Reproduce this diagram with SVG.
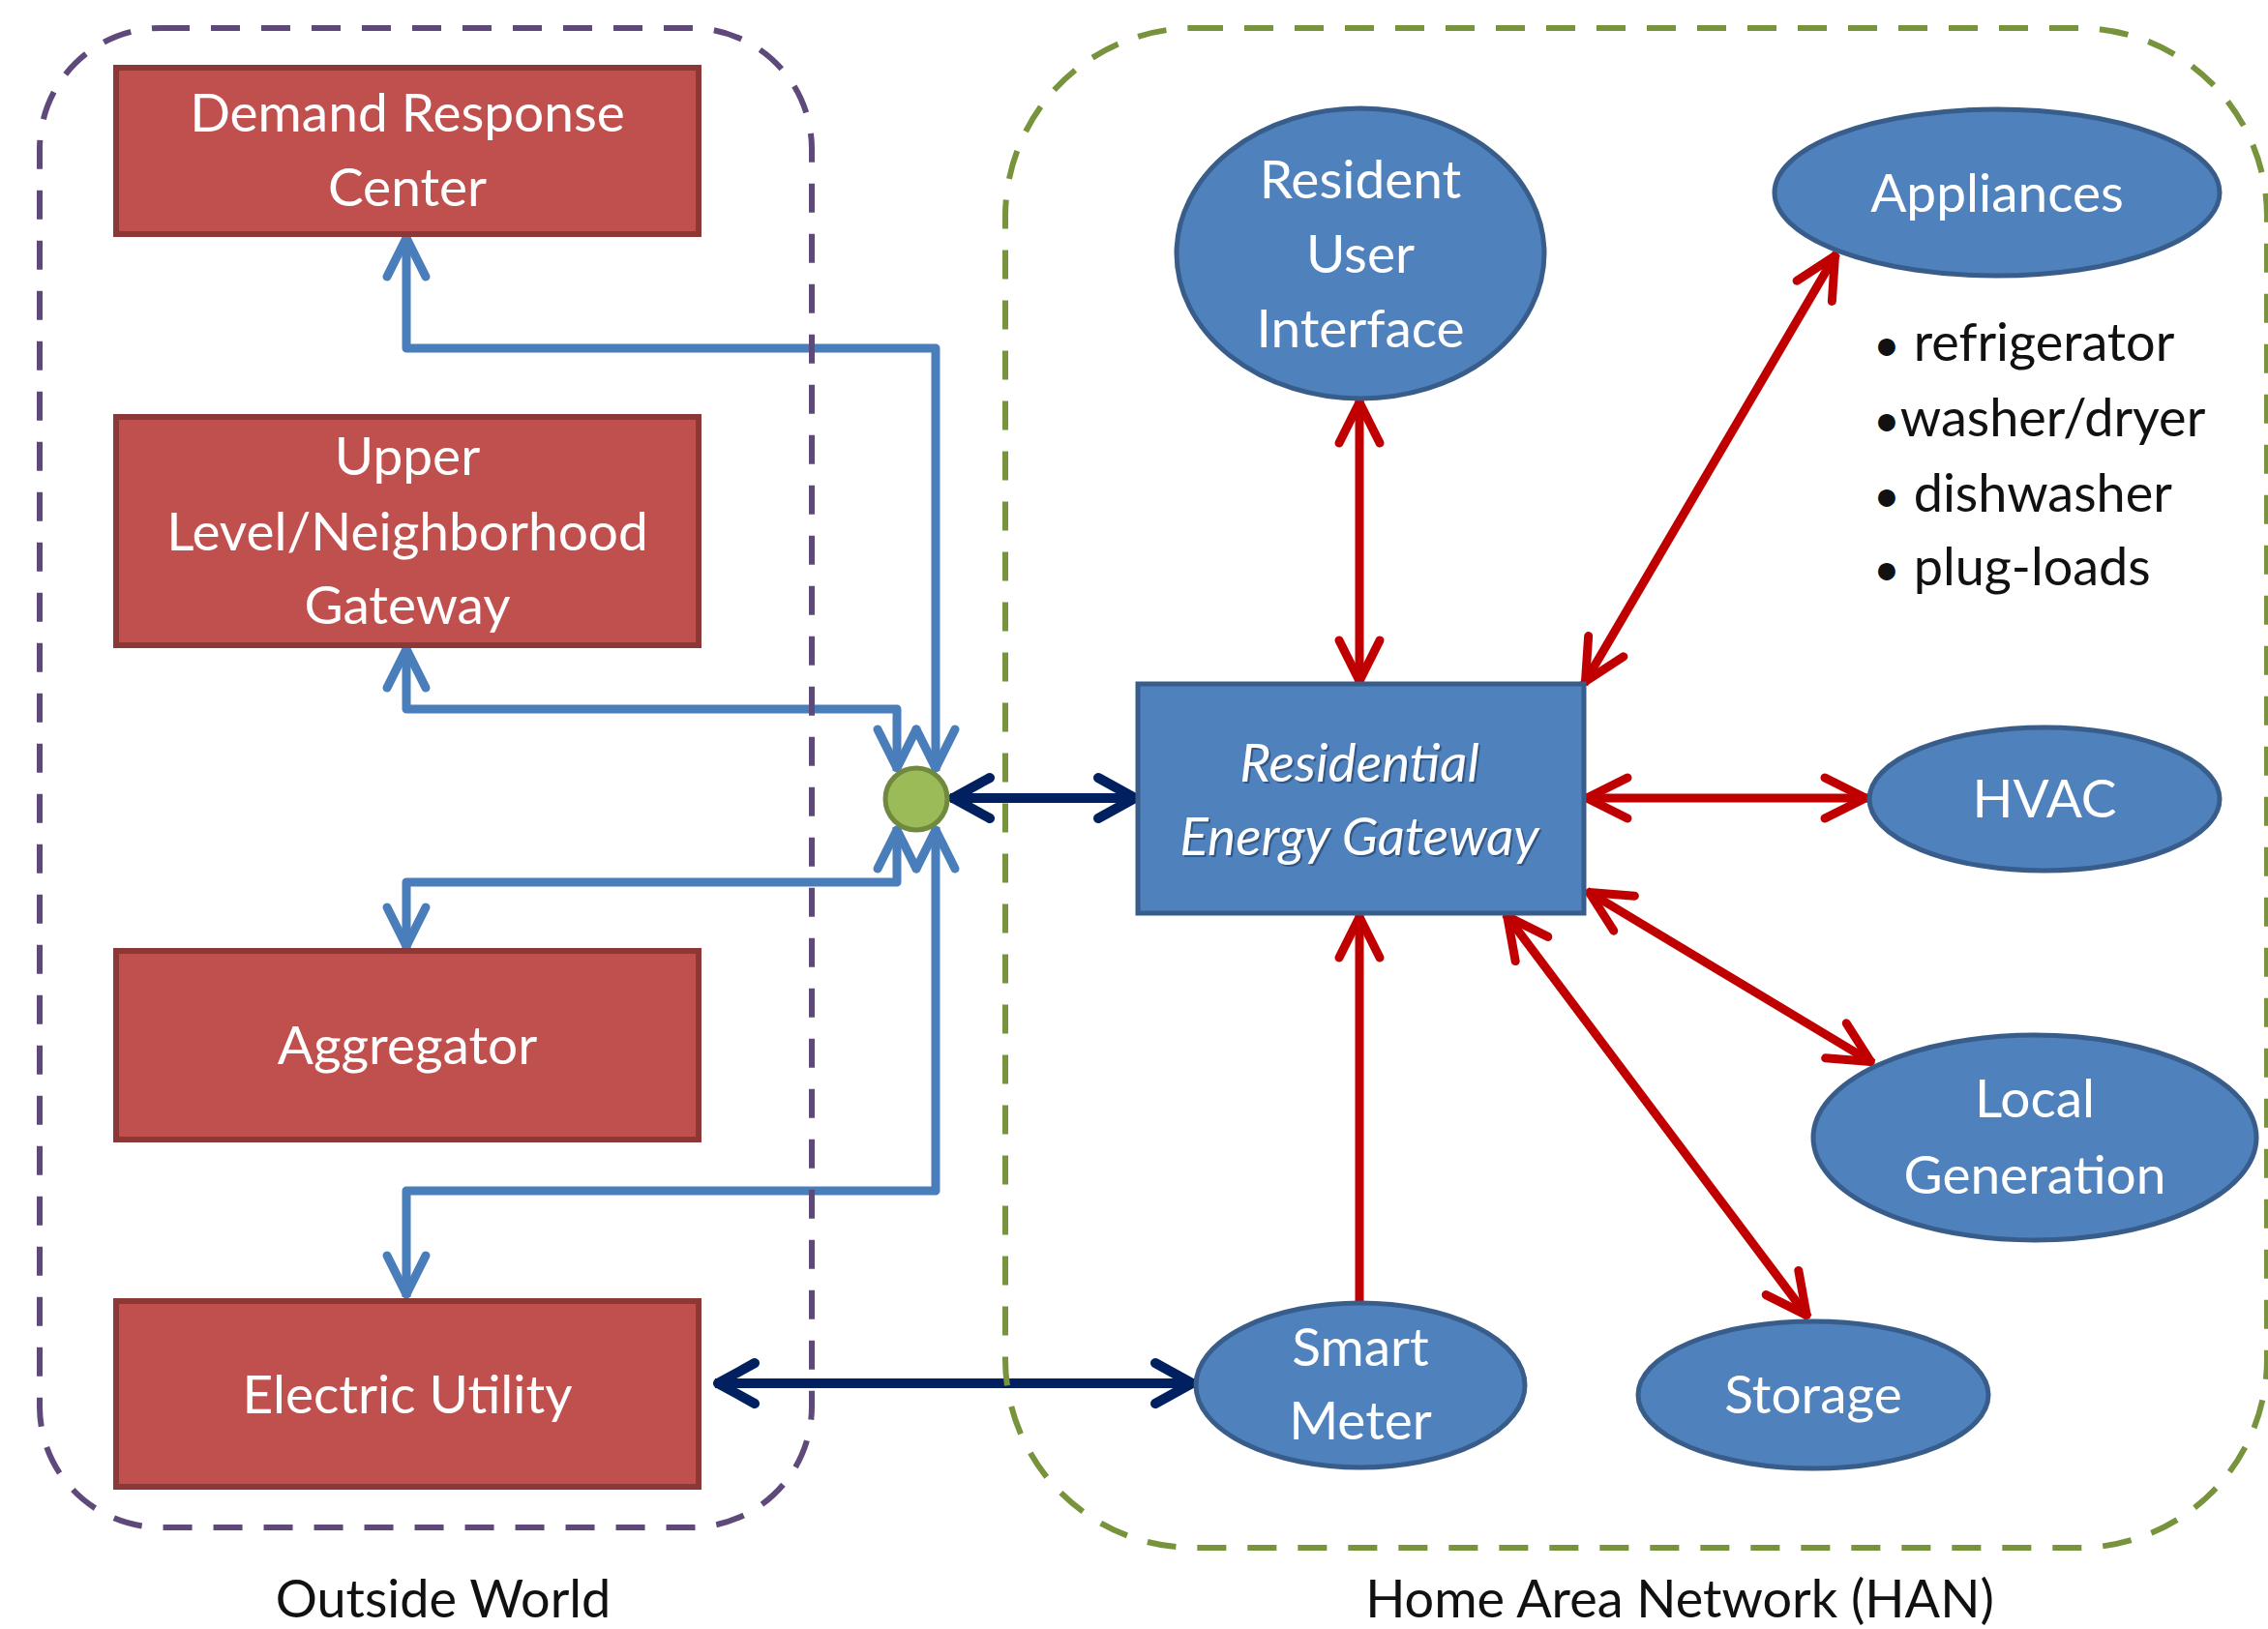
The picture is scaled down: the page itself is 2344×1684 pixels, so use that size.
<svg xmlns="http://www.w3.org/2000/svg" width="2344" height="1684" viewBox="0 0 2344 1684">
<style>
.rbox{fill:#C0504D;stroke:#8C3836;stroke-width:6}
.bnode{fill:#4F81BD;stroke:#385D8A;stroke-width:5}
.wt{fill:#fff;font-family:Lato,'Liberation Sans',sans-serif;font-size:55px;text-anchor:middle}
.it{font-style:italic}
.sh{fill:#1c3556;fill-opacity:0.55}
.bt{fill:#111;font-family:Lato,'Liberation Sans',sans-serif;font-size:54px}
.bul{font-size:48px}
.blue{fill:none;stroke:#4A7EBB;stroke-width:9;stroke-linejoin:round}
.red{fill:none;stroke:#C00000;stroke-width:9}
.navy{fill:none;stroke:#002060;stroke-width:10}
.outline{fill:none;stroke-width:6;stroke-dasharray:30 22}
</style>
<defs>
<marker id="mBlue" markerUnits="userSpaceOnUse" viewBox="-50 -30 60 60" refX="3" refY="0" markerWidth="60" markerHeight="60" orient="auto-start-reverse" overflow="visible">
<path d="M-40,-20 L0,0 L-40,20" fill="none" stroke="#4A7EBB" stroke-width="9" stroke-linecap="round" stroke-linejoin="round"/>
</marker>
<marker id="mRed" markerUnits="userSpaceOnUse" viewBox="-50 -30 60 60" refX="3" refY="0" markerWidth="60" markerHeight="60" orient="auto-start-reverse" overflow="visible">
<path d="M-42,-21 L0,0 L-42,21" fill="none" stroke="#C00000" stroke-width="9" stroke-linecap="round" stroke-linejoin="round"/>
</marker>
<marker id="mNavy" markerUnits="userSpaceOnUse" viewBox="-50 -30 60 60" refX="3" refY="0" markerWidth="60" markerHeight="60" orient="auto-start-reverse" overflow="visible">
<path d="M-38,-21 L0,0 L-38,21" fill="none" stroke="#002060" stroke-width="10" stroke-linecap="round" stroke-linejoin="round"/>
</marker>
</defs>
<rect width="2344" height="1684" fill="#fff"/>

<g id="connectors">
<path class="blue" d="M967,797 V360 H420 V243" marker-start="url(#mBlue)" marker-end="url(#mBlue)"/>
<path class="blue" d="M927,797 V733 H420 V668" marker-start="url(#mBlue)" marker-end="url(#mBlue)"/>
<path class="blue" d="M927,855 V912 H420 V981" marker-start="url(#mBlue)" marker-end="url(#mBlue)"/>
<path class="blue" d="M967,855 V1231 H420 V1341" marker-start="url(#mBlue)" marker-end="url(#mBlue)"/>
<path class="navy" d="M982,825 H1176" marker-start="url(#mNavy)" marker-end="url(#mNavy)"/>
<path class="navy" d="M739,1430 H1235" marker-start="url(#mNavy)" marker-end="url(#mNavy)"/>
<path class="red" d="M1405,413 V707" marker-start="url(#mRed)" marker-end="url(#mRed)"/>
<path class="red" d="M1898,262 L1637,707" marker-start="url(#mRed)" marker-end="url(#mRed)"/>
<path class="red" d="M1637,825 H1931" marker-start="url(#mRed)" marker-end="url(#mRed)"/>
<path class="red" d="M1640,921 L1936,1099" marker-start="url(#mRed)" marker-end="url(#mRed)"/>
<path class="red" d="M1556,945 L1869,1362" marker-start="url(#mRed)" marker-end="url(#mRed)"/>
<path class="red" d="M1405,1346 V945" marker-end="url(#mRed)"/>
</g>

<g id="outside-world">
<rect class="outline" x="41" y="29" width="798" height="1550" rx="125" ry="125" stroke="#5F497A"/>
<text class="bt" x="458" y="1672" text-anchor="middle">Outside World</text>
</g>
<g id="han">
<rect class="outline" x="1039" y="29" width="1304" height="1571" rx="195" ry="195" stroke="#77933C"/>
<text class="bt" x="1736" y="1672" text-anchor="middle">Home Area Network (HAN)</text>
</g>

<g id="demand-response-center">
<rect class="rbox" x="120" y="70" width="602" height="172"/>
<text class="wt" x="421" y="136">Demand Response</text>
<text class="wt" x="421" y="213">Center</text>
</g>
<g id="upper-level-gateway">
<rect class="rbox" x="120" y="431" width="602" height="236"/>
<text class="wt" x="421" y="491">Upper</text>
<text class="wt" x="421" y="569">Level/Neighborhood</text>
<text class="wt" x="421" y="645">Gateway</text>
</g>
<g id="aggregator">
<rect class="rbox" x="120" y="983" width="602" height="195"/>
<text class="wt" x="421" y="1100">Aggregator</text>
</g>
<g id="electric-utility">
<rect class="rbox" x="120" y="1345" width="602" height="192"/>
<text class="wt" x="421" y="1461">Electric Utility</text>
</g>

<g id="junction">
<circle cx="947" cy="826" r="32" fill="#9BBB59" stroke="#71893F" stroke-width="5"/>
</g>

<g id="residential-energy-gateway">
<rect x="1176" y="707" width="461" height="237" fill="#4F81BD" stroke="#385D8A" stroke-width="5"/>
<text class="wt it sh" x="1407" y="810">Residential</text>
<text class="wt it sh" x="1407" y="886">Energy Gateway</text>
<text class="wt it" x="1405" y="808">Residential</text>
<text class="wt it" x="1405" y="884">Energy Gateway</text>
</g>
<g id="resident-user-interface">
<ellipse class="bnode" cx="1406" cy="262" rx="190" ry="150"/>
<text class="wt" x="1406" y="205">Resident</text>
<text class="wt" x="1406" y="282">User</text>
<text class="wt" x="1406" y="359">Interface</text>
</g>
<g id="appliances">
<ellipse class="bnode" cx="2064" cy="199" rx="230" ry="86"/>
<text class="wt" x="2064" y="219">Appliances</text>
</g>
<g id="appliance-list">
<text class="bt" x="1936" y="373"><tspan class="bul">•</tspan> refrigerator</text>
<text class="bt" x="1936" y="451"><tspan class="bul">•</tspan>washer/dryer</text>
<text class="bt" x="1936" y="529"><tspan class="bul">•</tspan> dishwasher</text>
<text class="bt" x="1936" y="605"><tspan class="bul">•</tspan> plug-loads</text>
</g>
<g id="hvac">
<ellipse class="bnode" cx="2113" cy="826" rx="181" ry="74"/>
<text class="wt" x="2113" y="845">HVAC</text>
</g>
<g id="local-generation">
<ellipse class="bnode" cx="2103" cy="1176" rx="229" ry="106"/>
<text class="wt" x="2103" y="1155">Local</text>
<text class="wt" x="2103" y="1234">Generation</text>
</g>
<g id="storage">
<ellipse class="bnode" cx="1874" cy="1442" rx="181" ry="76"/>
<text class="wt" x="1874" y="1461">Storage</text>
</g>
<g id="smart-meter">
<ellipse class="bnode" cx="1406" cy="1432" rx="170" ry="85"/>
<text class="wt" x="1406" y="1412">Smart</text>
<text class="wt" x="1406" y="1488">Meter</text>
</g>
</svg>
